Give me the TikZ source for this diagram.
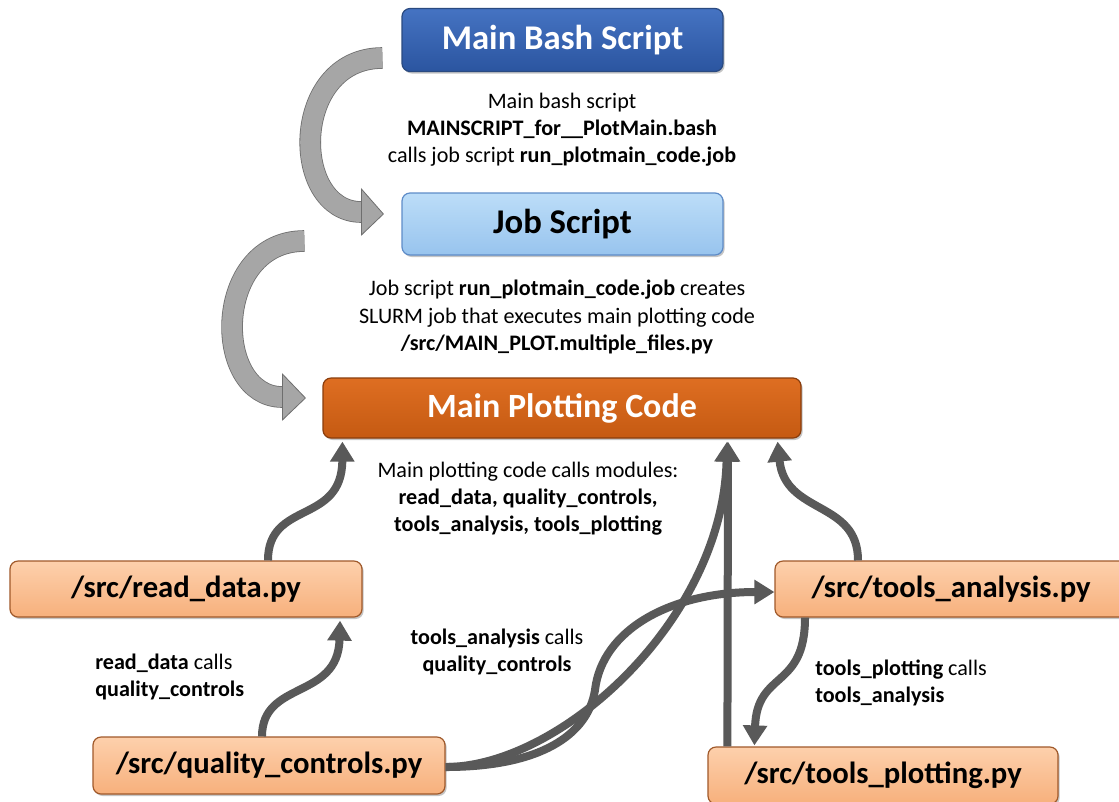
\documentclass[tikz,border=0pt]{standalone}
\usepackage{fontspec}
\setmainfont{Carlito}
\usetikzlibrary{arrows.meta,shadows,calc}
\definecolor{bashtop}{HTML}{4573C2}
\definecolor{bashbot}{HTML}{2B55A0}
\definecolor{bashedge}{HTML}{2A4A80}
\definecolor{jobtop}{HTML}{BCDDF8}
\definecolor{jobbot}{HTML}{98C4EE}
\definecolor{jobedge}{HTML}{5E8CC8}
\definecolor{mpctop}{HTML}{DE6E22}
\definecolor{mpcbot}{HTML}{C55A12}
\definecolor{mpcedge}{HTML}{8A3D0C}
\definecolor{modtop}{HTML}{FDD0AC}
\definecolor{modbot}{HTML}{F7B07C}
\definecolor{modedge}{HTML}{A0592A}
\definecolor{dgray}{HTML}{595959}
\definecolor{bgray}{HTML}{A6A6A6}
\definecolor{bedge}{HTML}{6E6E6E}
\tikzset{
  box/.style={rounded corners=6pt, line width=0.9pt, inner sep=0pt,
    drop shadow={shadow xshift=1.2pt, shadow yshift=-1.5pt, opacity=0.45}},
  bashbox/.style={box, draw=bashedge, top color=bashtop, bottom color=bashbot,
    text=white, font=\fontsize{26}{30}\selectfont\bfseries},
  jobbox/.style={box, draw=jobedge, top color=jobtop, bottom color=jobbot,
    text=black, font=\fontsize{26}{30}\selectfont\bfseries},
  mpcbox/.style={box, draw=mpcedge, top color=mpctop, bottom color=mpcbot,
    text=white, font=\fontsize{25.5}{30}\selectfont\bfseries},
  modbox/.style={box, draw=modedge, top color=modtop, bottom color=modbot,
    text=black, font=\fontsize{23}{27}\selectfont\bfseries},
  note/.style={font=\fontsize{16.6}{20.3}\selectfont, inner sep=0pt},
  darr/.style={draw=dgray, line width=6pt,
    -{Triangle[length=15pt,width=17.5pt]}},
  barr/.style={draw=bedge, line width=0.6pt, double=bgray, double distance=15pt},
  bhead/.style={fill=bgray, draw=bedge, line width=0.6pt, line join=miter}
}
\begin{document}
\begin{tikzpicture}[x=0.75pt, y=-0.75pt]
\useasboundingbox (0,0) rectangle (1119,801);
\fill[white] (0,0) rectangle (1119,801);

% boxes
\node[bashbox, minimum width=240.75pt, minimum height=47.25pt] (mbs) at (562.5,40) {Main Bash Script};
\node[jobbox, minimum width=240.75pt, minimum height=46.5pt] (job) at (562.5,224) {Job Script};
\node[mpcbox, minimum width=358.5pt, minimum height=45pt] (mpc) at (562,408) {Main Plotting Code};
\node[modbox, minimum width=264pt, minimum height=42pt] (rd) at (186,589) {/src/read\_data.py};
\node[modbox, minimum width=264pt, minimum height=42.75pt] (qc) at (269,765.5) {/src/quality\_controls.py};
\node[modbox, minimum width=264pt, minimum height=42pt] (ta) at (951,589) {/src/tools\_analysis.py};
\node[modbox, minimum width=262.5pt, minimum height=42.75pt] (tp) at (883,775.5) {/src/tools\_plotting.py};

% notes
\node[note, align=center] (t1) at (562,130) {Main bash script\\\textbf{MAINSCRIPT\_for\_\_PlotMain.bash}\\calls job script \textbf{run\_plotmain\_code.job}};
\node[note, align=center] (t2) at (557,317) {Job script \textbf{run\_plotmain\_code.job} creates\\SLURM job that executes main plotting code\\\textbf{/src/MAIN\_PLOT.multiple\_files.py}};
\node[note, align=center] (t3) at (528,499) {Main plotting code calls modules:\\\textbf{read\_data, quality\_controls,}\\\textbf{tools\_analysis, tools\_plotting}};
\node[note, align=left, anchor=west] (t4) at (95,677) {\textbf{read\_data} calls\\\textbf{quality\_controls}};
\node[note, align=center] (t5) at (497,652) {\textbf{tools\_analysis} calls\\\textbf{quality\_controls}};
\node[note, align=left, anchor=west] (t6) at (815,683) {\textbf{tools\_plotting} calls\\\textbf{tools\_analysis}};

% big curved gray arrows
\coordinate (h1s) at ($(mbs.west)+(-19,18)$);
\coordinate (h1e) at ($(job.west)+(-40,-12)$);
\draw[barr] (h1s) .. controls (290,58) and (290,212) .. (h1e);
\draw[bhead] ($(h1e)+(0,-23)$) -- ($(h1e)+(22,2)$) -- ($(h1e)+(0,23)$) -- cycle;
\coordinate (h2s) at ($(job.west)+(-97,17)$);
\coordinate (h2e) at ($(mpc.west)+(-40,-11)$);
\draw[barr] (h2s) .. controls (212,241) and (212,397) .. (h2e);
\draw[bhead] ($(h2e)+(0,-23)$) -- ($(h2e)+(23,1)$) -- ($(h2e)+(0,23)$) -- cycle;

% dark connectors
\draw[darr] ($(rd.north)+(82,0)$) .. controls (268,500) and (342,525) .. ($(mpc.south west)+(20,3)$);
\draw[darr] ($(qc.north)+(-7,0)$) .. controls (262,680) and (338,700) .. ($(rd.south)+(154,3)$);
\draw[darr] ($(qc.east)+(0,1.5)$) .. controls (540,767) and (588,735) .. (595,690)
   .. controls (602,630) and (670,592) .. ($(ta.west)+(0,3)$);
\draw[darr] ($(qc.east)+(0,1.5)$) .. controls (560,767) and (723,620) .. ($(mpc.south)+(165,3)$);
\draw[darr] ($(tp.north west)+(20,0)$) -- ($(mpc.south)+(166,3)$);
\draw[darr] ($(ta.north)+(-93,0)$) .. controls (858,500) and (785,515) .. ($(mpc.south east)+(-24,3)$);
\draw[darr] ($(ta.south)+(-146,0)$) .. controls (805,690) and (757,670) .. ($(tp.north west)+(47,-1)$);
\end{tikzpicture}
\end{document}
